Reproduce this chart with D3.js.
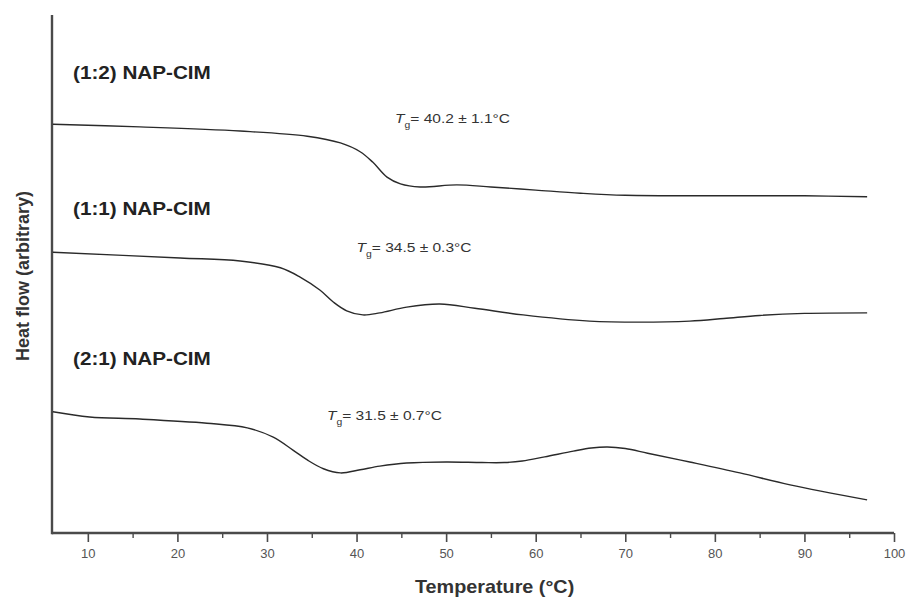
<!DOCTYPE html>
<html>
<head>
<meta charset="utf-8">
<script src="https://cdn.jsdelivr.net/npm/d3@7"></script>
<style>
  html, body { margin: 0; padding: 0; background: #fff; }
  svg { display: block; font-family: "Liberation Sans", Arial, sans-serif; }
</style>
</head>
<body>
<svg id="chart" width="911" height="599"></svg>
<script>
// DSC traces of NAP-CIM co-amorphous mixtures (heat flow in arbitrary units, offset per trace)
const temp12 = [6.1, 15.8, 27.0, 34.5, 38.2, 40.4, 41.8, 43.4, 44.9, 47.1, 51.2, 55.0, 60.0, 65.0, 70.0, 80.0, 90.0, 97.0];
const flow12 = [78.9, 78.4, 77.6, 76.6, 75.3, 73.6, 71.6, 68.7, 67.4, 66.8, 67.2, 66.8, 66.2, 65.6, 65.2, 65.1, 65.1, 64.9];

const temp11 = [6.1, 20.3, 27.0, 31.5, 33.7, 35.9, 37.4, 38.9, 40.7, 42.6, 45.6, 49.3, 53.2, 58.6, 66.0, 71.6, 77.2, 81.0, 85.0, 90.0, 97.0];
const flow11 = [54.2, 53.1, 52.5, 51.2, 49.4, 46.9, 44.6, 42.9, 42.1, 42.5, 43.6, 44.2, 43.4, 42.1, 40.9, 40.7, 40.9, 41.4, 42.0, 42.4, 42.5];

const temp21 = [6.1, 10.2, 15.8, 23.3, 27.8, 30.7, 32.9, 34.5, 36.3, 38.2, 40.4, 42.6, 45.6, 50.0, 54.0, 56.5, 58.5, 61.0, 64.2, 66.2, 68.0, 70.0, 72.5, 77.2, 82.8, 88.4, 97.0];
const flow21 = [23.4, 22.4, 22.0, 21.2, 20.3, 18.5, 16.0, 14.1, 12.4, 11.6, 12.2, 12.9, 13.5, 13.7, 13.6, 13.6, 13.9, 14.7, 15.8, 16.4, 16.6, 16.3, 15.4, 13.7, 11.6, 9.3, 6.4];

const seriesNames = ["(1:2) NAP-CIM", "(1:1) NAP-CIM", "(2:1) NAP-CIM"];
const tgLabels = ["40.2 \u00B1 1.1\u00B0C", "34.5 \u00B1 0.3\u00B0C", "31.5 \u00B1 0.7\u00B0C"];
const tgAnchorT = [44.3, 40.0, 36.7];       // temperature where each Tg note starts
const tgAnchorFlow = [79.2, 54.2, 21.9];    // heat-flow level of each Tg note baseline
const nameFlow = [87.6, 61.4, 32.4];        // heat-flow level of each trace name baseline

const xTicks = [10, 20, 30, 40, 50, 60, 70, 80, 90, 100];
const xMinor = [15, 25, 35, 45, 55, 65, 75, 85, 95];

const svg = d3.select("#chart");
const margin = { left: 52, right: 17, top: 15, bottom: 66 };
const W = 911, H = 599;

const x = d3.scaleLinear().domain([6, 100]).range([margin.left, W - margin.right]);
const y = d3.scaleLinear().domain([0, 100]).range([H - margin.bottom, margin.top]);

const axisColor = "#4a4a4a";

// x axis: major ticks with labels, minor ticks between
const xAxis = svg.append("g")
  .attr("transform", `translate(0,${y(0)})`)
  .call(d3.axisBottom(x).tickValues(xTicks).tickSize(9).tickPadding(7).tickFormat(d3.format("d")));
xAxis.select(".domain").remove();
xAxis.selectAll(".tick line").attr("stroke", axisColor).attr("stroke-width", 1.6);
xAxis.selectAll(".tick text").attr("fill", "#555").attr("font-size", 13)
  .attr("font-family", "'Liberation Sans Narrow', 'Liberation Sans', Arial, sans-serif");

const xAxisMinor = svg.append("g")
  .attr("transform", `translate(0,${y(0)})`)
  .call(d3.axisBottom(x).tickValues(xMinor).tickSize(5).tickFormat(""));
xAxisMinor.select(".domain").remove();
xAxisMinor.selectAll(".tick line").attr("stroke", axisColor).attr("stroke-width", 1.4);

// frame lines (left and bottom)
svg.append("line")
  .attr("x1", x(6)).attr("x2", x(100))
  .attr("y1", y(0)).attr("y2", y(0))
  .attr("stroke", axisColor).attr("stroke-width", 2.4);
svg.append("line")
  .attr("x1", x(6)).attr("x2", x(6))
  .attr("y1", y(0) + 1.2).attr("y2", y(100))
  .attr("stroke", axisColor).attr("stroke-width", 2.4);

// axis titles (slightly widened lettering)
svg.append("text")
  .attr("transform", "translate(415,593) scale(1.1,1)")
  .attr("font-size", 18).attr("font-weight", "bold").attr("fill", "#333")
  .text("Temperature (\u00B0C)");

svg.append("text")
  .attr("transform", `translate(29,${y(50) + 2}) rotate(-90)`)
  .attr("text-anchor", "middle")
  .attr("font-size", 18).attr("font-weight", "bold").attr("fill", "#333")
  .text("Heat flow (arbitrary)");

// traces
const line = d3.line()
  .x(d => x(d[0]))
  .y(d => y(d[1]))
  .curve(d3.curveCatmullRom.alpha(0.5));

const traces = [
  d3.zip(temp12, flow12),
  d3.zip(temp11, flow11),
  d3.zip(temp21, flow21)
];

svg.append("g").selectAll("path")
  .data(traces)
  .join("path")
  .attr("d", line)
  .attr("fill", "none")
  .attr("stroke", "#2a2a2a")
  .attr("stroke-width", 1.4);

// trace names
svg.append("g").selectAll("text")
  .data(seriesNames)
  .join("text")
  .attr("transform", (d, i) => `translate(${x(6) + 21},${y(nameFlow[i])}) scale(1.15,1)`)
  .attr("font-size", 18).attr("font-weight", "bold").attr("fill", "#222")
  .text(d => d);

// Tg annotations
const notes = svg.append("g").selectAll("text")
  .data(tgLabels)
  .join("text")
  .attr("transform", (d, i) => `translate(${x(tgAnchorT[i])},${y(tgAnchorFlow[i])}) scale(1.15,1)`)
  .attr("font-size", 13.5).attr("fill", "#333");
notes.append("tspan").attr("font-style", "italic").text("T");
notes.append("tspan").attr("font-size", 9).attr("dy", 5).text("g");
notes.append("tspan").attr("dy", -5).text(d => "= " + d);
</script>
</body>
</html>
